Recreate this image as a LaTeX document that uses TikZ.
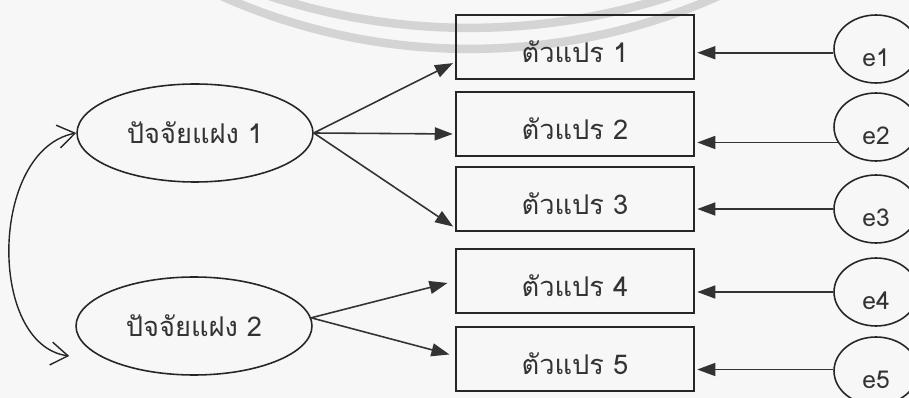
\documentclass[tikz,border=0pt]{standalone}
\usepackage{fontspec}
\setmainfont[Script=Thai]{Loma}
\usetikzlibrary{arrows.meta,shapes.geometric}

\tikzset{
  varbox/.style={draw=black!85,line width=0.9pt,minimum width=4.76cm,minimum height=1.28cm,inner sep=0pt,text=black!80,text height=0.7cm,text depth=0.06cm,font=\fontsize{15.5}{18}\selectfont},
  latent/.style={draw=black!85,ellipse,line width=0.9pt,minimum width=4.72cm,minimum height=1.96cm,inner sep=0pt,text=black!80,font=\fontsize{15.5}{18}\selectfont},
  errc/.style={draw=black!85,ellipse,line width=0.9pt,minimum width=1.68cm,minimum height=1.36cm,inner sep=0pt},
  errtxt/.style={inner sep=0pt,text=black!80,font=\fontsize{14}{16}\selectfont},
  arr/.style={draw=black!80,line width=0.9pt,shorten >=0.05cm,-{Triangle[length=0.36cm,width=0.26cm]}},
  cov/.style={draw=black!85,line width=0.8pt,{Straight Barb[length=0.34cm,width=0.46cm]}-{Straight Barb[length=0.34cm,width=0.46cm]}}
}

\begin{document}
\begin{tikzpicture}[x=0.02cm,y=-0.02cm]
\useasboundingbox (0,0) rectangle (909,398);
\fill[black!3] (0,0) rectangle (909,398);

% watermark arcs
\begin{scope}
  \clip (0,0) rectangle (909,398);
  \draw[black!17,line width=0.17cm] (470,-617) circle[radius=12.9cm];
  \draw[black!17,line width=0.17cm] (470,-560) circle[radius=12.18cm];
\end{scope}

\node[latent] (f1) at (195,133) {ปัจจัยแฝง 1};
\node[latent] (f2) at (194,326) {ปัจจัยแฝง 2};

\foreach \i/\y in {1/47,2/124,3/199,4/281,5/359}
  \node[varbox] (v\i) at (575,\y) {ตัวแปร \i};

% error terms
\foreach \i/\y/\ang in {1/49/185,2/127/202,3/209/180,4/292/180,5/371/178}{
  \node[errc] (e\i) at (876,\y) {};
  \node[errtxt] (t\i) at ([yshift=-0.18cm]e\i.center) {e\i};
  \draw[arr] (e\i.\ang) -- (v\i.east |- e\i.\ang);
}

\draw[arr] (f1.east) -- ([yshift=-0.3cm]v1.west);
\draw[arr] (f1.east) -- ([yshift=-0.2cm]v2.west);
\draw[arr] (f1.east) -- ([yshift=-0.58cm]v3.west);
\draw[arr,shorten >=0.16cm] (f2.4) -- (v4.west);
\draw[arr,shorten >=0.12cm] (f2.4) -- ([yshift=0.06cm]v5.west);

\draw[cov] (f1.west) .. controls +(-87,17) and +(-82,-11) .. ([xshift=-0.12cm,yshift=-0.6cm]f2.west);
\end{tikzpicture}
\end{document}
